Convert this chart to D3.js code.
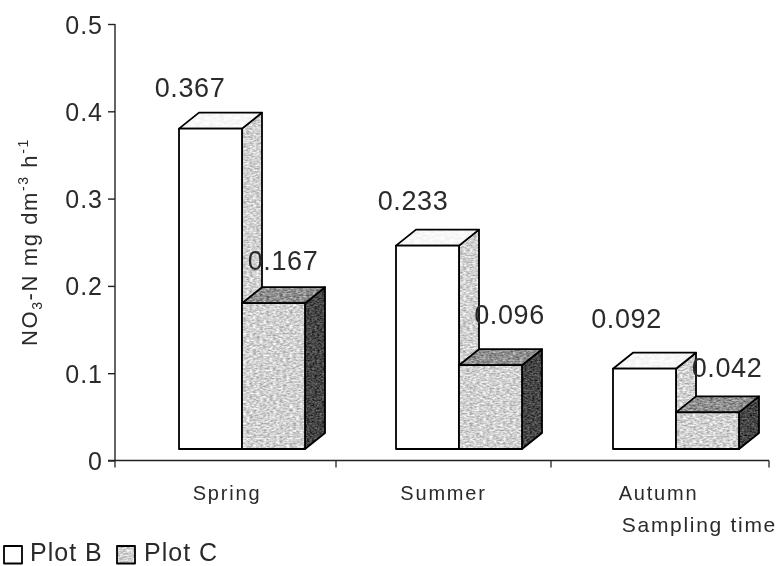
<!DOCTYPE html>
<html><head><meta charset="utf-8">
<script src="https://cdnjs.cloudflare.com/ajax/libs/d3/7.8.5/d3.min.js"></script>
<style>html,body{margin:0;padding:0;background:#fff}svg{display:block}text{font-family:"Liberation Sans",Arial,sans-serif;fill:#2a2a2a}</style>
</head><body><div id="c"></div>
<script>
const categories=["Spring","Summer","Autumn"];
const seriesNames=["Plot B","Plot C"];
const plotB=[0.367,0.233,0.092];
const plotC=[0.167,0.096,0.042];
const plotBLabels=["0.367","0.233","0.092"];
const plotCLabels=["0.167","0.096","0.042"];
const yTicks=[0,0.1,0.2,0.3,0.4,0.5];

const W=777,H=566;
const svg=d3.select("#c").append("svg").attr("width",W).attr("height",H);
const defs=svg.append("defs");
function noise(id,base,amp,freq){
  const f=defs.append("filter").attr("id",id).attr("x",0).attr("y",0).attr("width",1).attr("height",1).attr("color-interpolation-filters","sRGB");
  f.append("feTurbulence").attr("type","fractalNoise").attr("baseFrequency",freq).attr("numOctaves",2).attr("seed",4).attr("result","n");
  f.append("feColorMatrix").attr("in","n").attr("type","matrix")
   .attr("values",`${amp} 0 0 0 ${base-amp/2} ${amp} 0 0 0 ${base-amp/2} ${amp} 0 0 0 ${base-amp/2} 0 0 0 0 1`).attr("result","c");
  f.append("feComposite").attr("in","c").attr("in2","SourceAlpha").attr("operator","in");
}
noise("nLight",0.82,0.6,"0.3 0.6");
noise("nMid",0.56,0.7,"0.3 0.6");
noise("nDark",0.27,0.6,"0.4 0.6");
noise("nPale",0.97,0.12,"0.2 0.4");
const blur=defs.append("filter").attr("id","soft").attr("x",-0.02).attr("y",-0.02).attr("width",1.04).attr("height",1.04);
blur.append("feGaussianBlur").attr("stdDeviation",0.4);

const root=svg.append("g").attr("filter","url(#soft)");
const y=d3.scaleLinear().domain([0,0.5]).range([460.5,24]);
const x=d3.scaleBand().domain(categories).range([115,766]);
const xs=d3.scaleBand().domain(seriesNames).range([0,126]);
const lift=11.5, shift=18.5, dx=20, dy=16;   // oblique projection offsets
const pad=(x.bandwidth()-xs.range()[1])/2;

function poly(g,pts,fill,filter){
  const p=g.append("path").attr("d",d3.line()(pts)+"Z").attr("fill",fill).attr("stroke","none");
  if(filter)p.attr("filter",`url(#${filter})`);
  g.append("path").attr("d",d3.line()(pts)+"Z").attr("fill","none").attr("stroke","#000").attr("stroke-width",1.8).attr("stroke-linejoin","round");
}
function bar(cat,name,v){
  const x0=x(cat)+pad+xs(name)+shift, x1=x0+xs.bandwidth();
  const b=y(0)-lift, t=y(v)-lift;
  const g=root.append("g");
  const isB=name==="Plot B";
  poly(g,[[x1,t],[x1+dx,t-dy],[x1+dx,b-dy],[x1,b]],isB?"#ccc":"#444",isB?"nLight":"nDark");
  poly(g,[[x0,t],[x0+dx,t-dy],[x1+dx,t-dy],[x1,t]],isB?"#fff":"#888",isB?"nPale":"nMid");
  poly(g,[[x0,t],[x1,t],[x1,b],[x0,b]],isB?"#fff":"#ccc",isB?null:"nLight");
}
categories.forEach((c,i)=>{bar(c,"Plot B",plotB[i]);bar(c,"Plot C",plotC[i]);});

// axes
const yAxis=d3.axisLeft(y).tickValues(yTicks).tickFormat(d=>d===0?"0":d3.format(".1f")(d)).tickSize(7).tickPadding(5);
const ga=root.append("g").attr("transform","translate(115,0)").call(yAxis);
ga.select(".domain").attr("d",`M0,${y(0.5)}V${y(0)}`);
ga.selectAll("path,line").attr("stroke","#222").attr("stroke-width",1.4);
ga.selectAll("text").attr("font-size",25).attr("letter-spacing",1).attr("dy","0.36em").attr("fill","#2a2a2a");
const gx=root.append("g").attr("transform",`translate(0,${y(0)})`);
const xTickPos=d3.scaleLinear().domain([0,3]).range([115,769]);
const tickNudge=[0,3,0,0];
gx.append("line").attr("x1",108).attr("x2",769).attr("stroke","#222").attr("stroke-width",1.4);
gx.selectAll("line.t").data(tickNudge).join("line").attr("class","t").attr("x1",(d,i)=>xTickPos(i)+d).attr("x2",(d,i)=>xTickPos(i)+d).attr("y1",0).attr("y2",7).attr("stroke","#222").attr("stroke-width",1.3);

// category labels
const catOffset=[3.5,3,1];
root.selectAll("text.cat").data(categories).join("text").attr("class","cat")
 .attr("x",(d,i)=>x(d)+x.bandwidth()/2+catOffset[i]).attr("y",500).attr("text-anchor","middle")
 .attr("font-size",20).attr("letter-spacing",1.8).text(d=>d);
root.append("text").attr("x",777).attr("y",531.5).attr("text-anchor","end").attr("font-size",21).attr("letter-spacing",1.7).text("Sampling time");

// value labels
const bLabelPos=[[190,97],[413,210],[626.5,328]];
const cLabelPos=[[283,270],[509.5,324],[727,377]];
categories.forEach((c,i)=>{
  root.append("text").attr("x",bLabelPos[i][0]).attr("y",bLabelPos[i][1]).attr("text-anchor","middle").attr("font-size",27).attr("letter-spacing",0.6).text(plotBLabels[i]);
  root.append("text").attr("x",cLabelPos[i][0]).attr("y",cLabelPos[i][1]).attr("text-anchor","middle").attr("font-size",27).attr("letter-spacing",0.6).text(plotCLabels[i]);
});

// y title
const yt=root.append("text").attr("transform","translate(37,346) rotate(-90)").attr("font-size",22).attr("letter-spacing",1.6);
yt.append("tspan").text("NO");
yt.append("tspan").attr("font-size",14).attr("dy",5).text("3");
yt.append("tspan").attr("dy",-5).text("-N mg dm");
yt.append("tspan").attr("font-size",14).attr("dy",-9).text("-3");
yt.append("tspan").attr("dy",9).text(" h");
yt.append("tspan").attr("font-size",14).attr("dy",-9).text("-1");

// legend
const lg=root.append("g");
const leg=[{n:"Plot B",x:4,tx:30},{n:"Plot C",x:117,tx:144}];
leg.forEach((l,i)=>{
  const s=lg.append("g");
  poly(s,[[l.x,546],[l.x+18,546],[l.x+18,563.5],[l.x,563.5]],i?"#ccc":"#fff",i?"nLight":null);
  lg.append("text").attr("x",l.tx).attr("y",560.5).attr("font-size",25).attr("letter-spacing",1).text(l.n);
});
</script></body></html>
